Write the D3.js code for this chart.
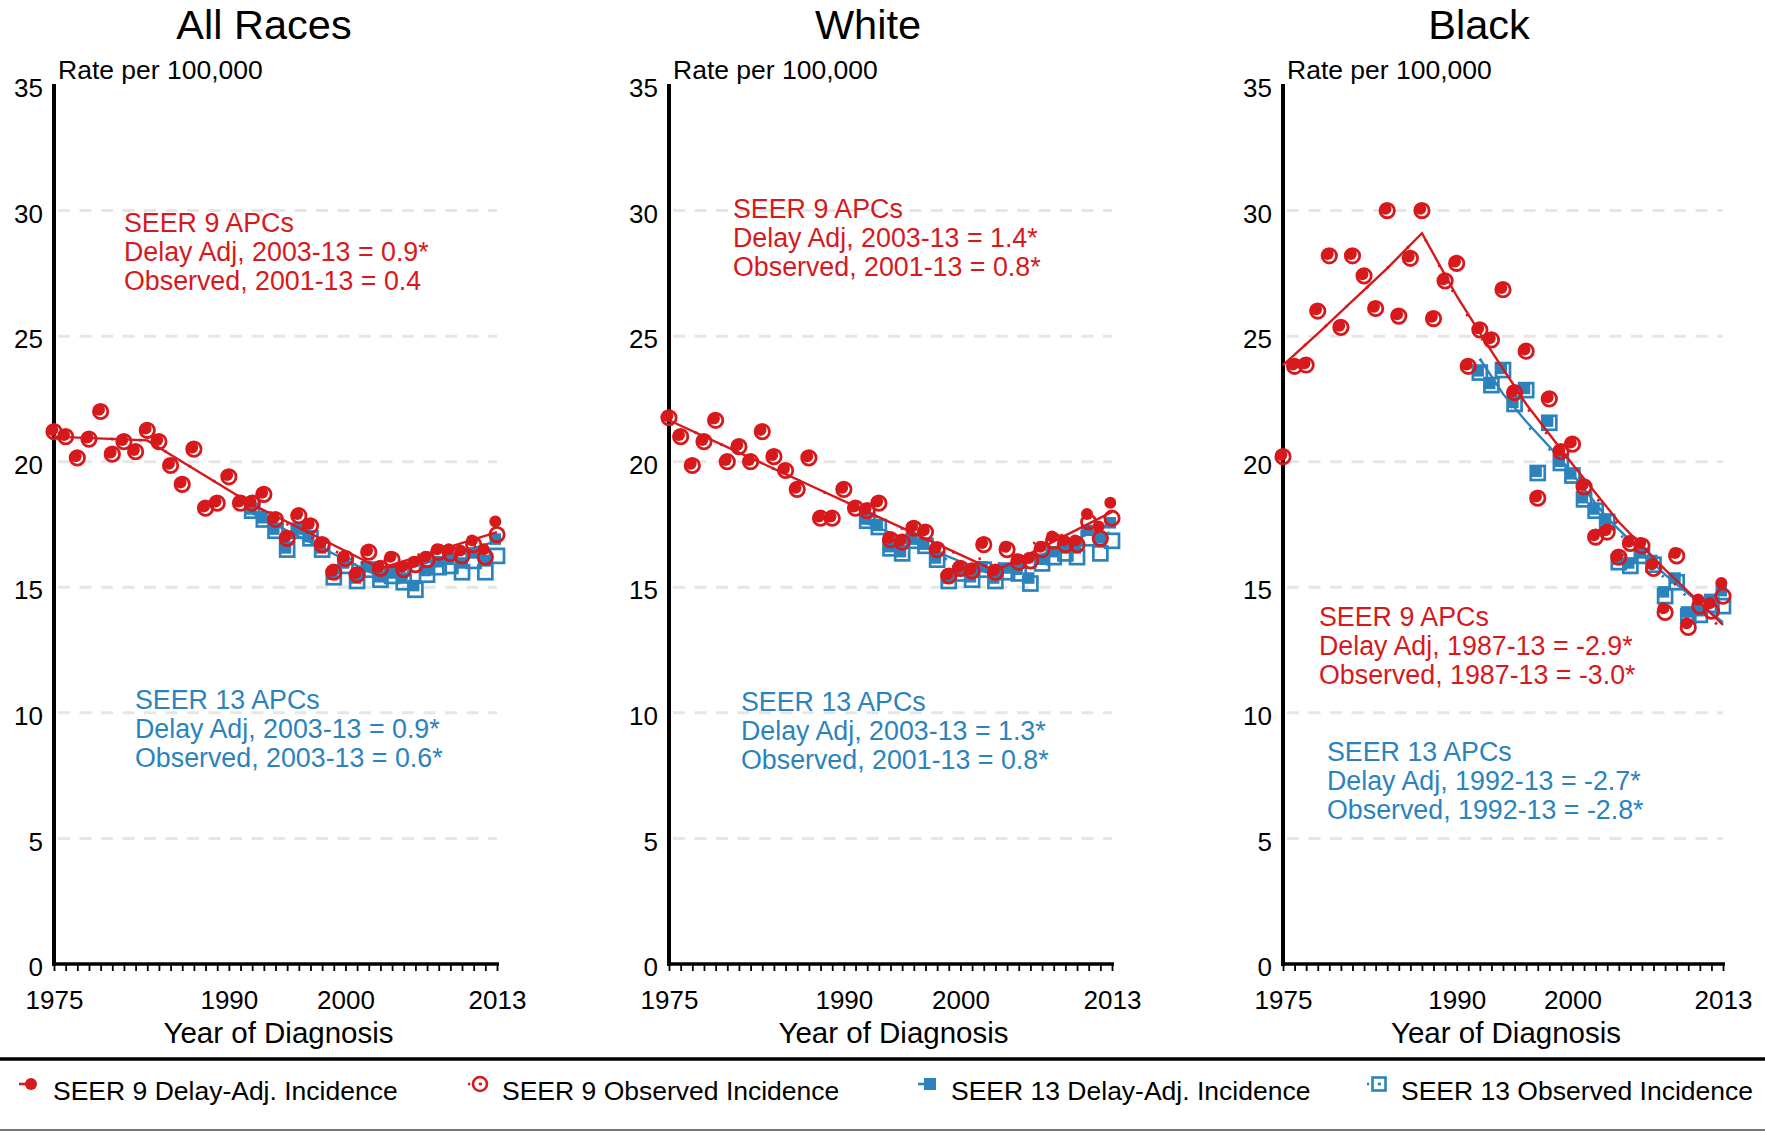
<!DOCTYPE html>
<html><head><meta charset="utf-8">
<script src="https://cdn.jsdelivr.net/npm/d3@7"></script>
<style>
body{margin:0;background:#fff}
svg{display:block}
text{font-family:"Liberation Sans",Arial,Helvetica,sans-serif}
</style>
</head><body>
<svg id="c" width="1765" height="1132"></svg>
<script>
// ---------------- DATA ----------------
const panelTitles = ["All Races", "White", "Black"];
const years = [1975,1976,1977,1978,1979,1980,1981,1982,1983,1984,1985,1986,1987,1988,1989,1990,1991,1992,1993,1994,1995,1996,1997,1998,1999,2000,2001,2002,2003,2004,2005,2006,2007,2008,2009,2010,2011,2012,2013];
const years13 = [1992,1993,1994,1995,1996,1997,1998,1999,2000,2001,2002,2003,2004,2005,2006,2007,2008,2009,2010,2011,2012,2013];
const xTickLabels = [1975, 1990, 2000, 2013];
const yTicks = [0, 5, 10, 15, 20, 25, 30, 35];
const gridValues = [5, 10, 15, 20, 25, 30];

// All Races
const allS9Delay = [21.2,21.0,20.15,20.9,22.0,20.3,20.8,20.4,21.25,20.8,19.85,19.1,20.5,18.15,18.35,19.4,18.35,18.35,18.7,17.7,16.95,17.85,17.45,16.7,15.6,16.15,15.5,16.4,15.75,16.15,15.75,15.95,16.15,16.45,16.45,16.4,16.8,16.45,17.55];
const allS9Obs   = [21.2,21.0,20.15,20.9,22.0,20.3,20.8,20.4,21.25,20.8,19.85,19.1,20.5,18.15,18.35,19.4,18.35,18.35,18.7,17.7,16.95,17.85,17.45,16.7,15.6,16.15,15.5,16.4,15.75,16.1,15.7,15.9,16.1,16.4,16.35,16.25,16.7,16.2,17.1];
const allS13Delay = [18.05,17.7,17.25,16.5,17.25,16.95,16.5,15.45,15.9,15.3,15.75,15.35,15.5,15.3,15.0,15.6,15.95,16.05,15.9,16.3,16.0,16.85];
const allS13Obs   = [18.05,17.7,17.25,16.5,17.25,16.95,16.5,15.4,15.85,15.25,15.7,15.3,15.45,15.2,14.9,15.5,15.8,15.85,15.6,16.05,15.6,16.25];
const allFitS9DelayYears = [1975,1983,1992,2003,2013], allFitS9Delay = [21.0,20.85,18.3,15.75,17.2];
const allFitS9ObsYears   = [1975,1983,1992,2001,2013], allFitS9Obs   = [21.0,20.85,18.3,15.95,16.75];
const allFitS13DelayYears = [1992,2003,2013], allFitS13Delay = [17.95,15.4,16.85];
const allFitS13ObsYears   = [1992,2003,2013], allFitS13Obs   = [17.95,15.4,16.35];

// White
const whS9Delay = [21.75,21.0,19.85,20.8,21.65,20.0,20.6,20.0,21.2,20.2,19.65,18.9,20.15,17.75,17.75,18.9,18.15,18.05,18.35,16.9,16.8,17.35,17.2,16.5,15.45,15.75,15.65,16.7,15.6,16.55,16.05,16.1,16.55,16.95,16.8,16.8,17.85,17.35,18.3];
const whS9Obs   = [21.75,21.0,19.85,20.8,21.65,20.0,20.6,20.0,21.2,20.2,19.65,18.9,20.15,17.75,17.75,18.9,18.15,18.05,18.35,16.9,16.8,17.35,17.2,16.5,15.45,15.75,15.65,16.7,15.6,16.5,16.0,16.05,16.5,16.85,16.7,16.7,17.6,16.95,17.75];
const whS13Delay = [17.65,17.4,16.55,16.35,16.85,16.65,16.1,15.3,15.6,15.35,15.75,15.3,15.7,15.65,15.3,16.05,16.35,16.5,16.5,17.2,16.9,17.5];
const whS13Obs   = [17.65,17.4,16.55,16.35,16.85,16.65,16.1,15.25,15.55,15.3,15.7,15.25,15.6,15.55,15.15,15.95,16.2,16.35,16.2,16.95,16.35,16.85];
const whFitS9DelayYears = [1975,2003,2013], whFitS9Delay = [21.65,15.65,18.0];
const whFitS9ObsYears   = [1975,2001,2013], whFitS9Obs   = [21.65,16.05,17.65];
const whFitS13DelayYears = [1992,2003,2013], whFitS13Delay = [17.55,15.45,17.55];
const whFitS13ObsYears   = [1992,2001,2013], whFitS13Obs   = [17.55,15.65,17.2];

// Black
const blS9Delay = [20.2,23.8,23.85,26.0,28.2,25.35,28.2,27.4,26.1,30.0,25.8,28.1,30.0,25.7,27.2,27.9,23.8,25.25,24.85,26.85,22.75,24.4,18.55,22.5,20.4,20.7,19.0,17.0,17.2,16.2,16.75,16.7,15.85,14.1,16.3,13.5,14.45,14.3,15.1];
const blS9Obs   = [20.2,23.8,23.85,26.0,28.2,25.35,28.2,27.4,26.1,30.0,25.8,28.1,30.0,25.7,27.2,27.9,23.8,25.25,24.85,26.85,22.75,24.4,18.55,22.5,20.4,20.7,19.0,17.0,17.2,16.2,16.75,16.65,15.75,14.0,16.25,13.4,14.25,14.05,14.65];
const blS13Delay = [23.55,23.05,23.65,22.3,22.85,19.55,21.55,19.95,19.45,18.5,18.05,17.65,16.05,15.9,16.3,16.0,14.75,15.3,13.95,14.0,14.45,14.8];
const blS13Obs   = [23.55,23.05,23.65,22.3,22.85,19.55,21.55,19.95,19.45,18.5,18.05,17.6,16.0,15.85,16.25,15.9,14.65,15.2,13.85,13.9,14.3,14.25];
const blFitS9DelayYears = [1975,1978,1981,1984,1987,1990,1993,1996,2000,2004,2008,2013], blFitS9Delay = [23.85,25.1,26.4,27.7,29.1,26.6,24.4,22.3,19.9,17.6,15.7,13.5];
const blFitS9ObsYears   = [1975,1978,1981,1984,1987,1990,1993,1996,2000,2004,2008,2013], blFitS9Obs   = [23.85,25.1,26.4,27.7,29.1,26.5,24.3,22.2,19.75,17.45,15.5,13.3];
const blFitS13DelayYears = [1992,1994,1996,1999,2003,2008,2013], blFitS13Delay = [24.1,22.7,21.6,20.1,17.75,15.5,13.6];
const blFitS13ObsYears   = [1992,1994,1996,1999,2003,2008,2013], blFitS13Obs   = [24.1,22.6,21.5,20.0,17.6,15.35,13.45];

// annotations
const annoS9 = [
  ["SEER 9 APCs","Delay Adj, 2003-13 = 0.9*","Observed, 2001-13 = 0.4"],
  ["SEER 9 APCs","Delay Adj, 2003-13 = 1.4*","Observed, 2001-13 = 0.8*"],
  ["SEER 9 APCs","Delay Adj, 1987-13 = -2.9*","Observed, 1987-13 = -3.0*"]
];
const annoS13 = [
  ["SEER 13 APCs","Delay Adj, 2003-13 = 0.9*","Observed, 2003-13 = 0.6*"],
  ["SEER 13 APCs","Delay Adj, 2003-13 = 1.3*","Observed, 2001-13 = 0.8*"],
  ["SEER 13 APCs","Delay Adj, 1992-13 = -2.7*","Observed, 1992-13 = -2.8*"]
];
const legendLabels = ["SEER 9 Delay-Adj. Incidence","SEER 9 Observed Incidence","SEER 13 Delay-Adj. Incidence","SEER 13 Observed Incidence"];

// ---------------- LAYOUT / STYLE ----------------
const RED = "#d7191c", BLUE = "#2b83be";
const FONT = '"Liberation Sans",Arial,sans-serif';
const plotLeft = [54, 669, 1283], plotWidth = [443, 443, 440];
const titleX = [264, 868, 1479];
const annoS9Pos = [[124,222],[733,208],[1319,616]];
const annoS13Pos = [[135,699],[741,701],[1327,751]];
const legendMarkX = [31, 480, 930, 1379];
const legendTextX = [53, 502, 951, 1401];

const panels = [
  {s9d:allS9Delay,s9o:allS9Obs,s13d:allS13Delay,s13o:allS13Obs,
   f9d:[allFitS9DelayYears,allFitS9Delay],f9o:[allFitS9ObsYears,allFitS9Obs],
   f13d:[allFitS13DelayYears,allFitS13Delay],f13o:[allFitS13ObsYears,allFitS13Obs]},
  {s9d:whS9Delay,s9o:whS9Obs,s13d:whS13Delay,s13o:whS13Obs,
   f9d:[whFitS9DelayYears,whFitS9Delay],f9o:[whFitS9ObsYears,whFitS9Obs],
   f13d:[whFitS13DelayYears,whFitS13Delay],f13o:[whFitS13ObsYears,whFitS13Obs]},
  {s9d:blS9Delay,s9o:blS9Obs,s13d:blS13Delay,s13o:blS13Obs,
   f9d:[blFitS9DelayYears,blFitS9Delay],f9o:[blFitS9ObsYears,blFitS9Obs],
   f13d:[blFitS13DelayYears,blFitS13Delay],f13o:[blFitS13ObsYears,blFitS13Obs]}
];

const svg = d3.select("#c");
const y = d3.scaleLinear().domain([0,35]).range([964,85]);

function zip(a,b){ return a.map((v,i)=>({year:v, v:b[i]})); }

function drawCircles(g, x, pts, color, filled){
  g.append("g").selectAll("circle").data(pts).join("circle")
    .attr("cx", d=>x(d.year)).attr("cy", d=>y(d.v))
    .attr("r", filled ? 6 : 7.2)
    .attr("transform", filled ? "translate(-1.7,-1.7)" : null)
    .attr("fill", filled ? color : "none")
    .attr("stroke", filled ? "none" : color)
    .attr("stroke-width", 2.8);
}
function drawSquares(g, x, pts, color, filled){
  const s = filled ? 11.5 : 14;
  g.append("g").selectAll("rect").data(pts).join("rect")
    .attr("x", d=>x(d.year)-s/2).attr("y", d=>y(d.v)-s/2)
    .attr("width", s).attr("height", s)
    .attr("transform", filled ? "translate(-1.7,-1.7)" : null)
    .attr("fill", filled ? color : "none")
    .attr("stroke", filled ? "none" : color)
    .attr("stroke-width", 2.7);
}
function drawFit(g, x, fit, color, dotted){
  const line = d3.line().x(d=>x(d.year)).y(d=>y(d.v));
  g.append("path").datum(zip(fit[0], fit[1]))
    .attr("d", line).attr("fill","none").attr("stroke", color)
    .attr("stroke-width", dotted ? 2.8 : 2.4)
    .attr("stroke-dasharray", dotted ? "2.4,26" : null);
}

panels.forEach((p, i) => {
  const x = d3.scaleLinear().domain([1975, 2013]).range([plotLeft[i], plotLeft[i] + plotWidth[i]]);
  const g = svg.append("g");

  // gridlines
  g.append("g").selectAll("line").data(gridValues).join("line")
    .attr("x1", x(1975)+4).attr("x2", x(2013))
    .attr("y1", d=>y(d)).attr("y2", d=>y(d))
    .attr("stroke", "#e6e6e6").attr("stroke-width", 3)
    .attr("stroke-dasharray", "12,9.5");

  // title
  g.append("text").attr("x", titleX[i]).attr("y", 39).attr("text-anchor","middle")
    .attr("font-size", 41.5).attr("fill","#000").text(panelTitles[i]);
  g.append("text").attr("x", plotLeft[i]+4).attr("y", 79)
    .attr("font-size", 26.5).attr("fill","#000").text("Rate per 100,000");

  // y axis
  const ya = g.append("g").attr("transform", `translate(${plotLeft[i]},0)`)
    .call(d3.axisLeft(y).tickValues(yTicks).tickSize(0).tickPadding(11));
  ya.select(".domain").remove();
  ya.selectAll("text").attr("font-size", 26).attr("dy", "0.45em").attr("fill","#000")
    .style("font-family", FONT);

  // x axis
  const xa = g.append("g").attr("transform", `translate(0,${y(0)})`)
    .call(d3.axisBottom(x).tickValues(years).tickSize(7).tickSizeOuter(0).tickPadding(20)
      .tickFormat(d => xTickLabels.includes(d) ? d : ""));
  xa.select(".domain").attr("stroke","#000").attr("stroke-width",3.5)
    .attr("d", `M${x(1975)-2},0H${x(2013)+2}`);
  xa.selectAll(".tick line").attr("stroke","#000").attr("stroke-width",1.8);
  xa.selectAll("text").attr("font-size", 26).attr("fill","#000")
    .style("font-family", FONT);

  // vertical axis line
  g.append("line").attr("x1", plotLeft[i]).attr("x2", plotLeft[i])
    .attr("y1", y(35)-1).attr("y2", y(0)+1.7)
    .attr("stroke","#000").attr("stroke-width",4);

  g.append("text").attr("x", (x(1975)+x(2013))/2 + 3).attr("y", 1043)
    .attr("text-anchor","middle").attr("font-size", 29.5).attr("fill","#000")
    .text("Year of Diagnosis");

  // SEER 13 (blue) first, then SEER 9 (red) on top
  drawSquares(g, x, zip(years13, p.s13o), BLUE, false);
  drawSquares(g, x, zip(years13, p.s13d), BLUE, true);
  drawFit(g, x, p.f13o, BLUE, true);
  drawFit(g, x, p.f13d, BLUE, false);
  drawCircles(g, x, zip(years, p.s9o), RED, false);
  drawCircles(g, x, zip(years, p.s9d), RED, true);
  drawFit(g, x, p.f9o, RED, true);
  drawFit(g, x, p.f9d, RED, false);

  // annotations
  [[annoS9[i], annoS9Pos[i], RED], [annoS13[i], annoS13Pos[i], BLUE]].forEach(([lines, pos, col]) => {
    const t = g.append("text").attr("font-size", 26.8).attr("fill", col);
    lines.forEach((s, k) => {
      t.append("tspan").attr("x", pos[0]).attr("y", pos[1] + 9.5 + k*29.3).text(s);
    });
  });
});

// legend
svg.append("line").attr("x1",0).attr("x2",1765).attr("y1",1059).attr("y2",1059)
  .attr("stroke","#000").attr("stroke-width",3.5);
svg.append("line").attr("x1",0).attr("x2",1765).attr("y1",1130).attr("y2",1130)
  .attr("stroke","#777").attr("stroke-width",2);

const lg = svg.append("g");
legendLabels.forEach((lab, k) => {
  const cx = legendMarkX[k], cy = 1084;
  const col = k < 2 ? RED : BLUE;
  const obs = (k % 2 === 1);
  lg.append("line").attr("x1", cx-12).attr("x2", cx+2).attr("y1", cy).attr("y2", cy)
    .attr("stroke", col).attr("stroke-width", 2.6)
    .attr("stroke-dasharray", obs ? "2.2,10" : null);
  if (k < 2) {
    lg.append("circle").attr("cx", cx).attr("cy", cy).attr("r", obs ? 7 : 6)
      .attr("fill", obs ? "none" : col).attr("stroke", obs ? col : "none").attr("stroke-width", 2.6);
  } else {
    const s = obs ? 13 : 12;
    lg.append("rect").attr("x", cx-s/2).attr("y", cy-s/2).attr("width", s).attr("height", s)
      .attr("fill", obs ? "none" : col).attr("stroke", obs ? col : "none").attr("stroke-width", 2.6);
  }
  if (obs) {
    lg.append("circle").attr("cx", cx).attr("cy", cy).attr("r", 1.4).attr("fill", col);
  }
  lg.append("text").attr("x", legendTextX[k]).attr("y", 1100)
    .attr("font-size", 26.5).attr("fill","#000").text(lab);
});
</script>
</body></html>
